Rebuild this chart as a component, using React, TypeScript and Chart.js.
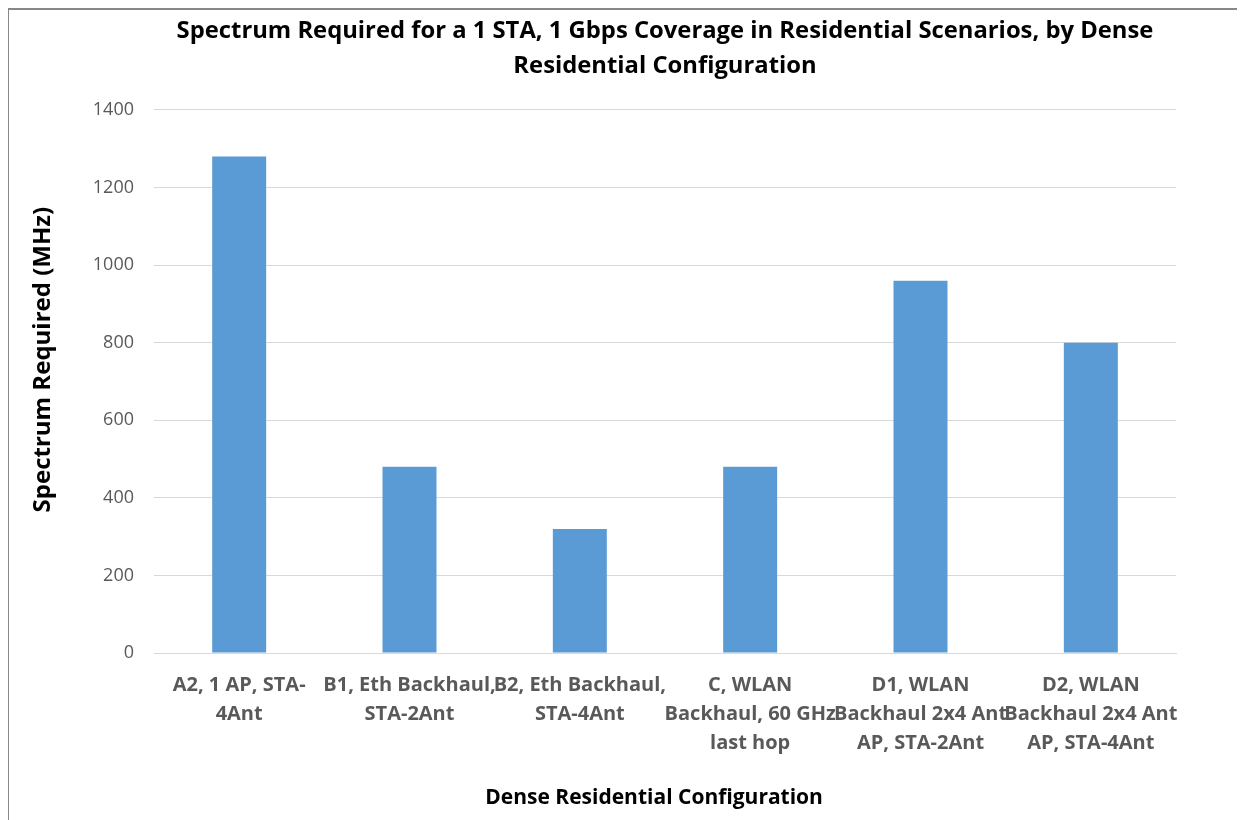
import React, { useEffect, useRef } from "react";
import { Chart, registerables } from "chart.js";

Chart.register(...registerables);

const categories: string[][] = [
  ["A2, 1 AP, STA-", "4Ant"],
  ["B1, Eth Backhaul,", "STA-2Ant"],
  ["B2, Eth Backhaul,", "STA-4Ant"],
  ["C, WLAN", "Backhaul, 60 GHz", "last hop"],
  ["D1, WLAN", "Backhaul 2x4 Ant", "AP, STA-2Ant"],
  ["D2, WLAN", "Backhaul 2x4 Ant", "AP, STA-4Ant"],
];
const spectrumValues: number[] = [1280, 480, 320, 480, 960, 800];
const titleLines: string[] = [
  "Spectrum Required for a 1 STA, 1 Gbps Coverage in Residential Scenarios, by Dense",
  "Residential Configuration",
];
// padding spaces nudge the axis titles slightly, as in the original
const yAxisTitle = "       Spectrum Required (MHz)";
const xAxisTitle = "Dense Residential Configuration    ";

const FONT = "'Open Sans', Lato, sans-serif";

export default function App() {
  const ref = useRef<HTMLCanvasElement | null>(null);
  useEffect(() => {
    if (!ref.current) return;
    const chart = new Chart(ref.current, {
      type: "bar",
      data: {
        labels: categories,
        datasets: [
          {
            data: spectrumValues,
            backgroundColor: "#5B9BD5",
            categoryPercentage: 1,
            barPercentage: 0.317,
          },
        ],
      },
      options: {
        responsive: false,
        animation: false,
        layout: { padding: { left: 0, right: 68, top: 0, bottom: 0 } },
        plugins: {
          legend: { display: false },
          tooltip: { enabled: false },
          title: {
            display: true,
            fullSize: false,
            text: titleLines,
            color: "#000000",
            font: { family: FONT, size: 23.8, weight: "bold", lineHeight: 1.47 },
            padding: { top: 4, bottom: 26 },
          },
        },
        scales: {
          x: {
            grid: { display: false, drawTicks: false },
            border: { display: true, color: "#D9D9D9" },
            ticks: {
              color: "#595959",
              font: { family: FONT, size: 20, weight: "bold", lineHeight: 1.45 },
              padding: 18,
              maxRotation: 0,
              minRotation: 0,
              autoSkip: false,
            },
            title: {
              display: true,
              text: xAxisTitle,
              color: "#000000",
              font: { family: FONT, size: 21, weight: "bold" },
              padding: { top: 0, bottom: 9 },
            },
            afterFit: (scale: any) => {
              scale.height = 167;
            },
          },
          y: {
            min: 0,
            max: 1400,
            grid: { color: "#D9D9D9", drawTicks: false },
            border: { display: false },
            ticks: {
              stepSize: 200,
              color: "#595959",
              font: { family: FONT, size: 18 },
              padding: 20,
              callback: (v: any) => String(v),
            },
            title: {
              display: true,
              text: yAxisTitle,
              color: "#000000",
              font: { family: FONT, size: 24, weight: "bold" },
              padding: { top: 20, bottom: 0 },
            },
            afterFit: (scale: any) => {
              scale.width = 145;
            },
          },
        },
      },
    });
    return () => chart.destroy();
  }, []);
  return (
    <div
      style={{
        width: 1235,
        height: 810,
        borderTop: "2px solid #878787",
        borderLeft: "2px solid #878787",
        marginLeft: -1,
        background: "#fff",
      }}
    >
      <canvas ref={ref} width={1235} height={810} style={{ display: "block" }} />
    </div>
  );
}
